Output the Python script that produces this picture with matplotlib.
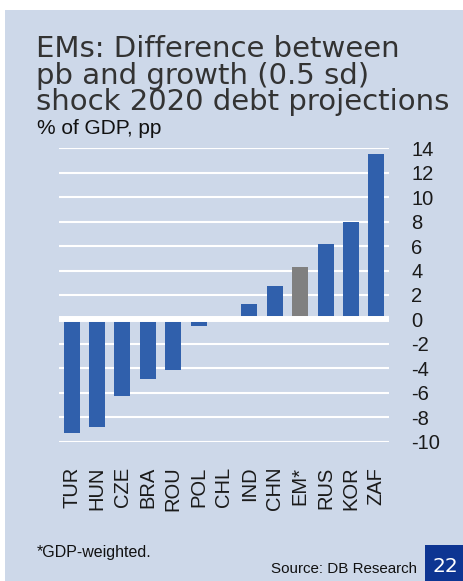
import matplotlib
matplotlib.use("Agg")
import matplotlib.pyplot as plt
from matplotlib.patches import Rectangle

# Data: % of GDP, pp
countries = ["TUR", "HUN", "CZE", "BRA", "ROU", "POL", "CHL", "IND", "CHN", "EM*", "RUS", "KOR", "ZAF"]
values = [-9.3, -8.8, -6.3, -4.9, -4.1, -0.5, 0.0, 1.3, 2.7, 4.3, 6.2, 8.0, 13.5]
highlight = "EM*"
yticks = list(range(-10, 15, 2))

BG = "#CDD8E9"
BLUE = "#3060AC"
GREY = "#808080"

W, H = 464, 581
fig = plt.figure(figsize=(W / 100, H / 100), dpi=100)
fig.patch.set_facecolor("white")

# light panel background with white margins at top/left
fig.add_artist(Rectangle((5 / W, 0), 1 - 5 / W, 1 - 10 / H, transform=fig.transFigure,
                         facecolor=BG, edgecolor="none", zorder=0))

def fx(px):
    return px / W

def fy(py):
    return 1 - py / H

ax_left, ax_right, ax_top, ax_bottom = 59, 389, 148.3, 441.7
ax = fig.add_axes([fx(ax_left), fy(ax_bottom), fx(ax_right - ax_left), (ax_bottom - ax_top) / H])
ax.set_facecolor("none")

colors = [GREY if c == highlight else BLUE for c in countries]
x = range(len(countries))
ax.bar(x, values, width=0.63, color=colors, zorder=2)

ax.set_xlim(-0.5, len(countries) - 0.5)
ax.set_ylim(-10, 14)
for t in yticks:
    if t == 0:
        continue
    ax.axhline(t, color="white", lw=1.5, zorder=1)
ax.axhline(0, color="white", lw=4.3, zorder=3)

for s in ax.spines.values():
    s.set_visible(False)

ax.yaxis.tick_right()
ax.set_yticks(yticks)
ax.set_yticklabels([str(t) for t in yticks], fontfamily="Liberation Sans", fontsize=14.5,
                   color="#1a1a1a", ha="left")
ax.tick_params(axis="y", length=0, pad=16)

ax.set_xticks(list(x))
ax.set_xticklabels(countries, rotation=90, fontfamily="Liberation Sans", fontsize=14.5,
                   color="#1a1a1a", va="top", ha="center")
ax.tick_params(axis="x", length=0, pad=18)

# title block
title_lines = ["EMs: Difference between", "pb and growth (0.5 sd)", "shock 2020 debt projections"]
for i, line in enumerate(title_lines):
    fig.text(fx(36), fy(57 + i * 26.7), line, fontfamily="DejaVu Sans", fontsize=21,
             color="#333333", ha="left", va="baseline")
fig.text(fx(37), fy(134), "% of GDP, pp", fontfamily="Liberation Sans", fontsize=15,
         color="#111111", ha="left", va="baseline")

# footnotes
fig.text(fx(37), fy(556.7), "*GDP-weighted.", fontfamily="Liberation Sans", fontsize=11.5,
         color="#111111", ha="left", va="baseline")
fig.text(fx(417), fy(572.7), "Source: DB Research", fontfamily="Liberation Sans", fontsize=10.9,
         color="#111111", ha="right", va="baseline")

# page number box
fig.add_artist(Rectangle((fx(425), 0), fx(W - 425), 36 / H, transform=fig.transFigure,
                         facecolor="#0D3592", edgecolor="none", zorder=4))
fig.text(fx(445.5), fy(566.5), "22", fontfamily="DejaVu Sans", fontsize=14.5, color="white",
         ha="center", va="center", zorder=5)

fig.savefig("out.png", dpi=100, facecolor=fig.get_facecolor())
